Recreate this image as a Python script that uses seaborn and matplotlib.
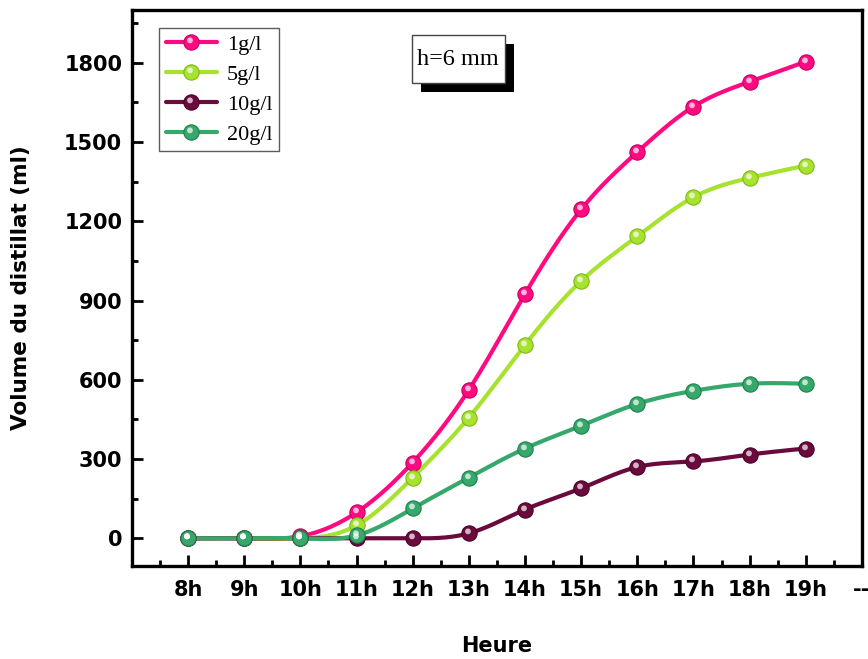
import numpy as np
import pandas as pd
import matplotlib
matplotlib.use("Agg")
import matplotlib.pyplot as plt
import matplotlib.patheffects as pe
from matplotlib.lines import Line2D
from matplotlib.patches import Rectangle
from matplotlib.legend_handler import HandlerTuple
from matplotlib.path import Path
import seaborn as sns

# Distillate volume (ml) per hour for each salt concentration
hours = [8, 9, 10, 11, 12, 13, 14, 15, 16, 17, 18, 19]
hour_labels = ["8h", "9h", "10h", "11h", "12h", "13h", "14h", "15h", "16h", "17h", "18h", "19h"]
vol_1gl = [0, 0, 8, 98, 287, 562, 925, 1245, 1462, 1634, 1728, 1804]
vol_5gl = [0, 0, 0, 49, 230, 457, 732, 974, 1143, 1291, 1364, 1411]
vol_10gl = [0, 0, 0, 0, 0, 19, 109, 189, 270, 291, 317, 340]
vol_20gl = [0, 0, 0, 11, 113, 230, 340, 426, 509, 558, 585, 585]

series_names = ["1g/l", "5g/l", "10g/l", "20g/l"]
series_values = [vol_1gl, vol_5gl, vol_10gl, vol_20gl]
series_colors = ["#FF0A80", "#A6E22E", "#6B0A3C", "#36A86B"]
edge_colors = ["#C8005E", "#7FB81A", "#4A0228", "#1F7F4C"]


def natural_spline(x, y, xs):
    """Natural cubic spline through (x, y), evaluated at xs."""
    x = np.asarray(x, float)
    y = np.asarray(y, float)
    n = len(x)
    h = np.diff(x)
    A = np.zeros((n, n))
    r = np.zeros(n)
    A[0, 0] = A[-1, -1] = 1.0
    for i in range(1, n - 1):
        A[i, i - 1] = h[i - 1]
        A[i, i] = 2 * (h[i - 1] + h[i])
        A[i, i + 1] = h[i]
        r[i] = 3 * ((y[i + 1] - y[i]) / h[i] - (y[i] - y[i - 1]) / h[i - 1])
    c = np.linalg.solve(A, r)
    b = (y[1:] - y[:-1]) / h - h * (2 * c[:-1] + c[1:]) / 3
    d = (c[1:] - c[:-1]) / (3 * h)
    idx = np.clip(np.searchsorted(x, xs) - 1, 0, n - 2)
    dx = xs - x[idx]
    return y[idx] + b[idx] * dx + c[idx] * dx ** 2 + d[idx] * dx ** 3


points = pd.DataFrame(
    [(h, v, name) for name, vals in zip(series_names, series_values) for h, v in zip(hours, vals)],
    columns=["Heure", "Volume", "Concentration"],
)
xs = np.linspace(hours[0], hours[-1], 600)
curves = pd.DataFrame(
    [(x, v, name)
     for name, vals in zip(series_names, series_values)
     for x, v in zip(xs, natural_spline(hours, vals, xs))],
    columns=["Heure", "Volume", "Concentration"],
)
palette = dict(zip(series_names, series_colors))

sns.set_style("white")
plt.rcParams["font.family"] = ["DejaVu Sans"]
plt.rcParams.update({"text.color": "black", "axes.labelcolor": "black",
                     "xtick.color": "black", "ytick.color": "black"})

fig = plt.figure(figsize=(8.68, 6.59), dpi=100)
ax = fig.add_axes([0.152, 0.141, 0.841, 0.844])

sns.lineplot(data=curves, x="Heure", y="Volume", hue="Concentration",
             palette=palette, linewidth=3.0, ax=ax, legend=False, sort=False,
             estimator=None)

# Glossy "sphere" markers: a coloured disc plus a small light highlight
hl_verts = [(-0.5, -0.5), (0.5, 0.5)]
circ = Path.circle(center=(-0.1, 0.14), radius=0.19)
hl_path = Path(np.vstack([hl_verts, circ.vertices]),
               np.concatenate([[Path.MOVETO, Path.MOVETO], circ.codes]))
MS = 11.0

for name, col, ecol in zip(series_names, series_colors, edge_colors):
    sub = points[points["Concentration"] == name]
    ax.plot(sub["Heure"], sub["Volume"], linestyle="none", marker="o",
            markersize=MS, markerfacecolor=col, markeredgecolor=ecol,
            markeredgewidth=0.8, zorder=4)
    ax.plot(sub["Heure"], sub["Volume"], linestyle="none", marker=hl_path,
            markersize=MS, markerfacecolor="white", markeredgewidth=0,
            alpha=0.7, zorder=5)

ax.set_xlim(7, 20)
ax.set_ylim(-105, 2000)
ax.set_xticks(list(range(7, 21)))
ax.set_xticklabels([""] + hour_labels + ["--"])
ax.set_xticks(np.arange(7.5, 20, 1.0), minor=True)
ax.set_yticks(range(0, 1801, 300))
ax.set_yticks(range(150, 1951, 300), minor=True)

ax.tick_params(axis="both", which="major", direction="in", length=8, width=2,
               labelsize=15, pad=10)
ax.tick_params(axis="both", which="minor", direction="in", length=4, width=2)
ax.tick_params(axis="x", which="both", bottom=True, top=False)
ax.tick_params(axis="y", which="both", left=True, right=False, pad=7)
for lab in ax.get_xticklabels() + ax.get_yticklabels():
    lab.set_fontweight("bold")

for sp in ax.spines.values():
    sp.set_visible(True)
    sp.set_linewidth(2.4)
    sp.set_color("black")

ax.set_xlabel("Heure", fontsize=15, fontweight="bold", labelpad=26)
ax.set_ylabel("Volume du distillat (ml)", fontsize=15.5, fontweight="bold", labelpad=24)

# Legend with sphere-style handles
handles = []
for col, ecol in zip(series_colors, edge_colors):
    base = Line2D([], [], color=col, linewidth=3.0, marker="o", markersize=MS,
                  markerfacecolor=col, markeredgecolor=ecol, markeredgewidth=0.8)
    shine = Line2D([], [], linestyle="none", marker=hl_path, markersize=MS,
                   markerfacecolor="white", markeredgewidth=0, alpha=0.7)
    handles.append((base, shine))
leg = ax.legend(handles, series_names, loc="upper left",
                bbox_to_anchor=(0.037, 0.968), borderaxespad=0,
                handler_map={tuple: HandlerTuple(ndivide=1, pad=0)},
                prop={"family": "Liberation Serif", "size": 16},
                frameon=True, fancybox=False, edgecolor="#333333",
                handlelength=2.3, handletextpad=0.45, labelspacing=0.42,
                borderpad=0.3)
leg.get_frame().set_linewidth(1.0)

# Annotation box with a drop shadow
box = Rectangle((0.3836, 0.869), 0.1275, 0.086, transform=ax.transAxes,
                facecolor="white", edgecolor="#444444", linewidth=1.0, zorder=6)
box.set_path_effects([
    pe.SimplePatchShadow(offset=(6.5, -6.5), shadow_rgbFace="black", alpha=1.0),
    pe.Normal(),
])
ax.add_patch(box)
ax.text(0.447, 0.911, "h=6 mm", transform=ax.transAxes, ha="center", va="center",
        fontsize=17.5, family="Liberation Serif", color="black", zorder=7)

fig.savefig("out.png", dpi=100)
